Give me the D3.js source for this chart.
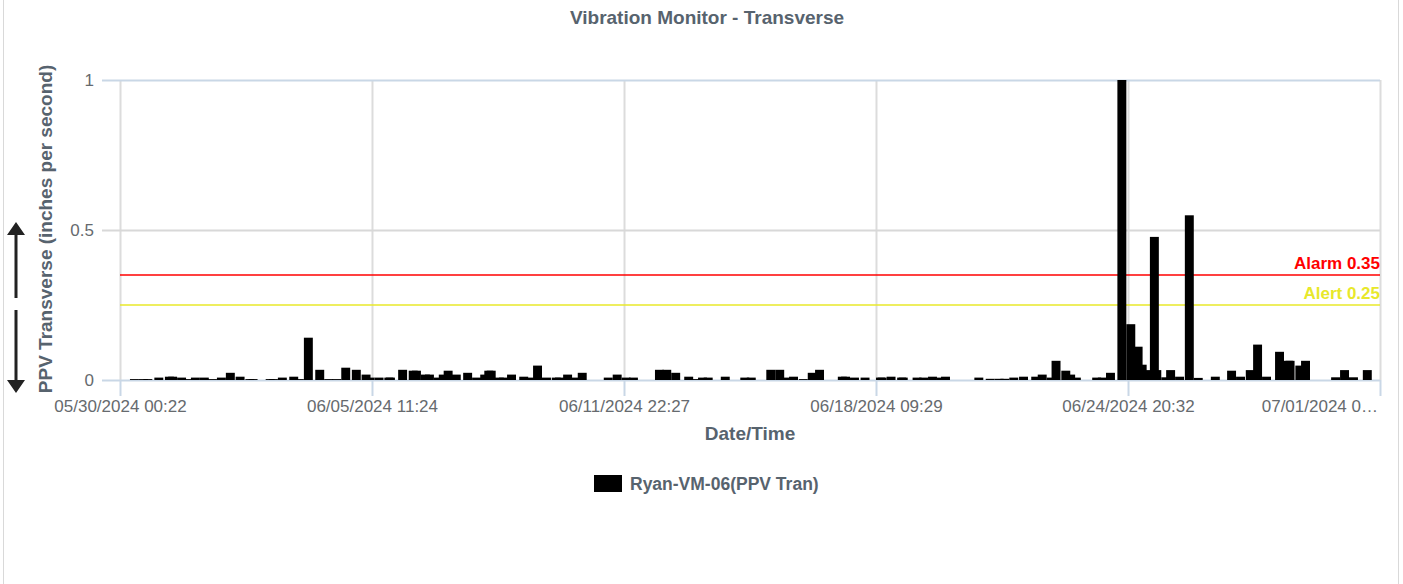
<!DOCTYPE html>
<html>
<head>
<meta charset="utf-8">
<script src="https://cdn.jsdelivr.net/npm/d3@7"></script>
<style>
  html, body { margin: 0; padding: 0; background: #fff; }
  svg { display: block; font-family: "Liberation Sans", Arial, sans-serif; }
</style>
</head>
<body>
<svg id="chart" width="1403" height="584"></svg>
<script>
// ---------- DATA ----------
const chartTitle = "Vibration Monitor - Transverse";
const yAxisTitle = "PPV Transverse (inches per second)";
const xAxisTitle = "Date/Time";
const seriesName = "Ryan-VM-06(PPV Tran)";

const xTickLabels = ["05/30/2024 00:22", "06/05/2024 11:24", "06/11/2024 22:27",
                     "06/18/2024 09:29", "06/24/2024 20:32", "07/01/2024 07:34"];
const yTickValues = [0, 0.5, 1];

const thresholdNames = ["Alarm 0.35", "Alert 0.25"];
const thresholdValues = [0.35, 0.25];
const thresholdColors = ["#ff0000", "#e8e82a"];

const readingTimes = [
  "05/30/2024 06:30","05/30/2024 12:00","05/30/2024 14:45","05/30/2024 21:30",
  "05/31/2024 04:00","05/31/2024 06:00","05/31/2024 11:30","05/31/2024 16:00","05/31/2024 20:00",
  "06/01/2024 01:30","06/01/2024 06:30","06/01/2024 12:00","06/01/2024 17:30","06/01/2024 23:30",
  "06/02/2024 05:30","06/02/2024 07:30","06/02/2024 18:00","06/02/2024 20:00",
  "06/03/2024 01:30","06/03/2024 08:30","06/03/2024 12:00","06/03/2024 17:30",
  "06/04/2024 00:30","06/04/2024 06:00","06/04/2024 11:00","06/04/2024 16:30","06/04/2024 23:00",
  "06/05/2024 05:00","06/05/2024 07:30","06/05/2024 13:00","06/05/2024 19:00","06/05/2024 20:00",
  "06/06/2024 03:30","06/06/2024 10:00","06/06/2024 12:00","06/06/2024 17:30","06/06/2024 20:00",
  "06/07/2024 01:30","06/07/2024 04:30","06/07/2024 07:30","06/07/2024 12:30","06/07/2024 19:30",
  "06/08/2024 01:00","06/08/2024 06:00","06/08/2024 08:30","06/08/2024 10:00","06/08/2024 15:00","06/08/2024 17:30","06/08/2024 22:30",
  "06/09/2024 06:00","06/09/2024 09:30","06/09/2024 14:30","06/09/2024 20:00",
  "06/10/2024 02:00","06/10/2024 04:00","06/10/2024 09:00","06/10/2024 13:00","06/10/2024 18:00",
  "06/11/2024 10:00","06/11/2024 15:30","06/11/2024 21:00",
  "06/12/2024 01:30","06/12/2024 17:30","06/12/2024 22:00",
  "06/13/2024 03:30","06/13/2024 11:30","06/13/2024 15:00","06/13/2024 20:00","06/13/2024 23:30",
  "06/14/2024 10:00","06/14/2024 22:00",
  "06/15/2024 02:00","06/15/2024 14:00","06/15/2024 19:30","06/15/2024 23:00",
  "06/16/2024 04:00","06/16/2024 10:00","06/16/2024 15:30","06/16/2024 20:00",
  "06/17/2024 10:00","06/17/2024 12:00","06/17/2024 17:30",
  "06/18/2024 00:00","06/18/2024 09:30","06/18/2024 10:30","06/18/2024 16:00","06/18/2024 22:30","06/18/2024 23:30",
  "06/19/2024 08:00","06/19/2024 12:00","06/19/2024 17:30","06/19/2024 23:00",
  "06/20/2024 01:30","06/20/2024 22:00",
  "06/21/2024 05:00","06/21/2024 10:30","06/21/2024 14:00","06/21/2024 19:30",
  "06/22/2024 01:30","06/22/2024 09:00","06/22/2024 13:00","06/22/2024 18:30","06/22/2024 21:30",
  "06/23/2024 03:30","06/23/2024 06:30","06/23/2024 10:00","06/23/2024 22:30",
  "06/24/2024 02:00","06/24/2024 07:00","06/24/2024 14:00","06/24/2024 19:30",
  "06/25/2024 00:00","06/25/2024 02:30","06/25/2024 07:30","06/25/2024 10:00","06/25/2024 11:30","06/25/2024 17:00","06/25/2024 20:00",
  "06/26/2024 01:30","06/26/2024 07:30","06/26/2024 13:00","06/26/2024 23:30",
  "06/27/2024 09:30","06/27/2024 15:00","06/27/2024 21:00",
  "06/28/2024 01:30","06/28/2024 07:00","06/28/2024 15:00","06/28/2024 20:30","06/28/2024 21:30",
  "06/29/2024 03:30","06/29/2024 07:00",
  "06/30/2024 01:30","06/30/2024 07:00","06/30/2024 12:30","06/30/2024 21:00"
];
const ppvValues = [
  0.003,0.003,0.003,0.008,
  0.011,0.011,0.008,0.003,0.008,
  0.008,0.003,0.008,0.024,0.011,
  0.003,0.003,0.003,0.003,
  0.008,0.011,0.003,0.141,
  0.034,0.003,0.003,0.041,0.034,
  0.018,0.008,0.008,0.008,0.008,
  0.034,0.031,0.031,0.018,0.018,
  0.008,0.018,0.031,0.018,0.024,
  0.008,0.018,0.031,0.031,0.008,0.008,0.018,
  0.011,0.008,0.048,0.008,
  0.008,0.008,0.018,0.008,0.024,
  0.008,0.018,0.008,
  0.008,0.034,0.034,
  0.024,0.011,0.003,0.008,0.008,
  0.011,0.008,
  0.008,0.034,0.034,0.008,
  0.011,0.003,0.024,0.034,
  0.011,0.011,0.008,
  0.008,0.008,0.008,0.011,0.008,0.008,
  0.008,0.008,0.011,0.008,
  0.011,0.008,
  0.004,0.004,0.004,0.008,
  0.011,0.011,0.018,0.008,0.064,
  0.031,0.018,0.008,0.008,
  0.008,0.024,1.0,0.186,
  0.111,0.051,0.033,0.477,0.033,0.009,0.033,
  0.011,0.549,0.007,0.011,
  0.031,0.011,0.033,
  0.118,0.011,0.094,0.064,0.064,
  0.048,0.064,
  0.009,0.033,0.009,0.033
];
const barHours = 5.5;

// ---------- SETUP ----------
const W = 1403, H = 584;
const margin = { left: 120, right: 23, top: 80, bottom: 204 };
const parse = d3.timeParse("%m/%d/%Y %H:%M");
const tickDates = xTickLabels.map(parse);
const data = readingTimes.map((t, i) => ({ t: parse(t), v: ppvValues[i] }));

const svg = d3.select("#chart");
const x = d3.scaleTime().domain([tickDates[0], tickDates[tickDates.length - 1]])
  .range([margin.left, W - margin.right]);
const y = d3.scaleLinear().domain([0, 1]).range([H - margin.bottom, margin.top]);

const titleColor = "#57636e";
const labelColor = "#666a6e";

// outer border
svg.append("rect").attr("x", 3.5).attr("y", -2).attr("width", 1395).attr("height", H + 4)
  .attr("fill", "none").attr("stroke", "#d9d9d9").attr("stroke-width", 1);

// title
svg.append("text").attr("x", 707).attr("y", 24).attr("text-anchor", "middle")
  .attr("font-size", 19).attr("font-weight", "bold").attr("fill", titleColor).text(chartTitle);

// vertical gridlines + x ticks
const xAxis = d3.axisBottom(x).tickValues(tickDates)
  .tickFormat((d, i) => xTickLabels[i]).tickSize(0).tickPadding(0);
const gx = svg.append("g").attr("transform", `translate(0,${y(0)})`).call(xAxis);
gx.select(".domain").remove();
gx.selectAll(".tick").append("line").attr("y1", -(y(0) - y(1))).attr("y2", 0)
  .attr("stroke", "#dcdcdc").attr("stroke-width", 2);
gx.selectAll(".tick").append("line").attr("y1", 0).attr("y2", 16)
  .attr("stroke", "#c9d7e6").attr("stroke-width", 2);
gx.selectAll(".tick text").attr("y", 32).attr("dy", null)
  .attr("font-size", 17).attr("font-family", "Liberation Sans, Arial, sans-serif")
  .attr("fill", labelColor);
// truncate labels overflowing right edge
gx.selectAll(".tick text").each(function () {
  const el = this;
  const tr = el.parentNode.getAttribute("transform");
  const cx = +/translate\(([-\d.]+)/.exec(tr)[1];
  const limit = W - margin.right - 2;
  const w = el.getComputedTextLength();
  if (cx + w / 2 > limit) {
    let s = el.textContent;
    const maxW = 120;
    while (s.length > 1 && el.getComputedTextLength() > maxW) {
      s = s.slice(0, -1);
      el.textContent = s + "…";
    }
    d3.select(el).attr("text-anchor", "end").attr("x", limit - cx);
  }
});

// horizontal gridlines + y ticks
const yAxis = d3.axisLeft(y).tickValues(yTickValues).tickFormat(d3.format("")).tickSize(0).tickPadding(0);
const gy = svg.append("g").attr("transform", `translate(${margin.left},0)`).call(yAxis);
gy.select(".domain").remove();
gy.selectAll(".tick").append("line").attr("x1", -18).attr("x2", W - margin.right - margin.left)
  .attr("stroke", d => d === 0.5 ? "#d8d8d8" : "#c9d7e6").attr("stroke-width", 2);
gy.selectAll(".tick text").attr("x", -26).attr("dy", "0.35em")
  .attr("font-size", 17).attr("font-family", "Liberation Sans, Arial, sans-serif")
  .attr("fill", labelColor);

// threshold lines
thresholdValues.forEach((v, i) => {
  svg.append("line").attr("x1", margin.left).attr("x2", W - margin.right)
    .attr("y1", y(v)).attr("y2", y(v)).attr("stroke", thresholdColors[i]).attr("stroke-width", 1.5);
  svg.append("text").attr("x", W - margin.right).attr("y", y(v) - 6).attr("text-anchor", "end")
    .attr("font-size", 17).attr("font-weight", "bold").attr("fill", thresholdColors[i])
    .text(thresholdNames[i]);
});

// bars
const barMs = barHours * 3600 * 1000;
svg.append("g").selectAll("rect").data(data).join("rect")
  .attr("x", d => x(d.t))
  .attr("width", d => x(new Date(d.t.getTime() + barMs)) - x(d.t))
  .attr("y", d => y(d.v))
  .attr("height", d => y(0) - y(d.v))
  .attr("fill", "#000");

// axis titles
svg.append("text").attr("x", (margin.left + W - margin.right) / 2).attr("y", 440)
  .attr("text-anchor", "middle").attr("font-size", 19).attr("font-weight", "bold")
  .attr("fill", titleColor).text(xAxisTitle);
svg.append("text").attr("transform", `translate(52,229) rotate(-90)`)
  .attr("text-anchor", "middle").attr("font-size", 19).attr("font-weight", "bold")
  .attr("fill", titleColor).text(yAxisTitle);

// arrows
const arrowX = 16;
svg.append("path").attr("fill", "#222")
  .attr("d", `M${arrowX},222 L${arrowX + 9},235 L${arrowX + 1.5},235 L${arrowX + 1.5},298 L${arrowX - 1.5},298 L${arrowX - 1.5},235 L${arrowX - 9},235 Z`);
svg.append("path").attr("fill", "#222")
  .attr("d", `M${arrowX},393 L${arrowX + 9},380 L${arrowX + 1.5},380 L${arrowX + 1.5},310 L${arrowX - 1.5},310 L${arrowX - 1.5},380 L${arrowX - 9},380 Z`);

// legend
svg.append("rect").attr("x", 594).attr("y", 475).attr("width", 28).attr("height", 17).attr("fill", "#000");
svg.append("text").attr("x", 630).attr("y", 490).attr("font-size", 17.5).attr("font-weight", "bold")
  .attr("fill", titleColor).text(seriesName);
</script>
</body>
</html>
